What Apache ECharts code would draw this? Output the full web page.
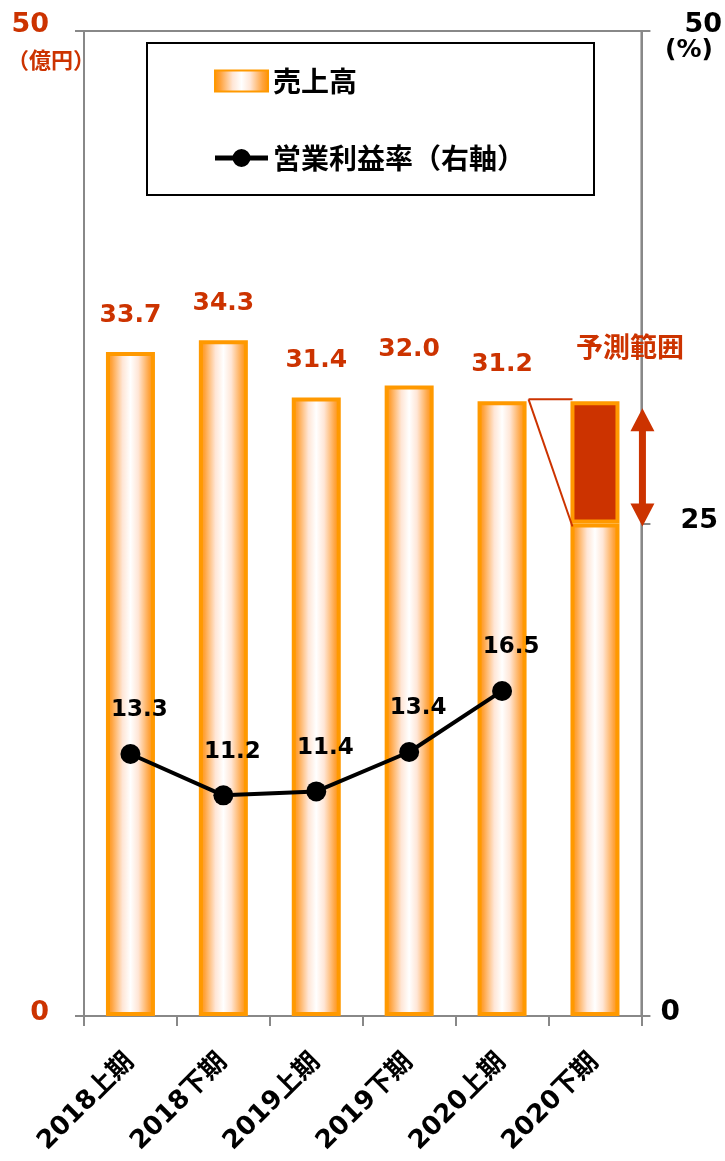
<!DOCTYPE html>
<html>
<head>
<meta charset="utf-8">
<script src="https://cdn.jsdelivr.net/npm/echarts@6/dist/echarts.min.js"></script>
<style>
  html, body { margin: 0; padding: 0; background: #fff; }
  #chart { width: 725px; height: 1161px; }
</style>
</head>
<body>
<div id="chart"></div>
<script>
// 半期ごとの売上高（億円）と営業利益率（%）
const categories = ['2018上期', '2018下期', '2019上期', '2019下期', '2020上期', '2020下期'];
const sales = [33.7, 34.3, 31.4, 32.0, 31.2];
const margin = [13.3, 11.2, 11.4, 13.4, 16.5];
// 2020下期の予測レンジ（億円）
const forecastRange = [25.0, 31.2];
const leftTicks = [0, 50];
const rightTicks = [0, 25, 50];

const RED = '#CC3300';
const ORANGE = '#FF9900';
const AXIS = '#888888';
const FONT = '"DejaVu Sans", "Noto Sans CJK JP", sans-serif';
const CJK = '"Noto Sans CJK JP", "DejaVu Sans", sans-serif';

const barGradient = new echarts.graphic.LinearGradient(0, 0, 1, 0, [
  { offset: 0, color: '#FF9000' },
  { offset: 0.12, color: '#FFA43F' },
  { offset: 0.34, color: '#FFE6D6' },
  { offset: 0.5, color: '#FFFFFF' },
  { offset: 0.66, color: '#FFE6D6' },
  { offset: 0.88, color: '#FFA43F' },
  { offset: 1, color: '#FF9000' }
]);

const salesBars = sales.concat([forecastRange[0]]);
const rangeBars = sales.map(() => '-').concat([+(forecastRange[1] - forecastRange[0]).toFixed(1)]);

// 凡例用：線の中央に丸印
const lineIcon = 'path://M0,8H18V13H0Z M35,8H53V13H35Z M17.5,10.5a9,9 0 1,1 18,0a9,9 0 1,1 -18,0Z';

const chart = echarts.init(document.getElementById('chart'), null, { renderer: 'canvas' });

chart.setOption({
  animation: false,
  backgroundColor: '#fff',
  textStyle: { fontFamily: FONT },
  grid: {
    left: 84, right: 82, top: 31, bottom: 145,
    show: true, borderColor: AXIS, borderWidth: 2
  },
  legend: {
    left: 147, top: 43,
    orient: 'vertical',
    padding: [24, 69, 23, 67],
    borderColor: '#000', borderWidth: 2,
    itemWidth: 53, itemHeight: 21, itemGap: 49,
    textStyle: { fontFamily: CJK, fontSize: 28, fontWeight: 'bold', color: '#000', lineHeight: 28 },
    data: [{ name: '売上高', icon: 'rect' }, { name: '営業利益率（右軸）', icon: lineIcon }]
  },
  xAxis: {
    type: 'category',
    data: categories,
    axisLine: { lineStyle: { color: AXIS, width: 2 } },
    axisTick: { show: true, length: 10, lineStyle: { color: AXIS, width: 2 } },
    axisLabel: {
      interval: 0, rotate: 45, margin: 42,
      fontFamily: FONT, fontSize: 26, fontWeight: 'bold', color: '#000'
    },
    splitLine: { show: false }
  },
  yAxis: [
    {
      type: 'value', position: 'left', min: leftTicks[0], max: leftTicks[1], interval: leftTicks[1] - leftTicks[0],
      axisLine: { show: true, lineStyle: { color: AXIS, width: 2 } },
      axisTick: { show: true, length: 9, lineStyle: { color: AXIS, width: 2 } },
      splitLine: { show: false },
      axisLabel: {
        margin: 35, color: RED, fontFamily: FONT, fontSize: 27, fontWeight: 'bold',
        formatter: v => v === leftTicks[1] ? '{top|' + v + '}' : '{base|' + v + '}',
        rich: {
          top: { fontFamily: FONT, fontSize: 27, fontWeight: 'bold', color: RED, padding: [0, 0, 12, 0] },
          base: { fontFamily: FONT, fontSize: 27, fontWeight: 'bold', color: RED, padding: [0, 0, 6, 0] }
        }
      }
    },
    {
      type: 'value', position: 'right', min: rightTicks[0], max: rightTicks[2], interval: rightTicks[1] - rightTicks[0],
      axisLine: { show: true, lineStyle: { color: AXIS, width: 2 } },
      axisTick: { show: true, length: 9, lineStyle: { color: AXIS, width: 2 } },
      splitLine: { show: false },
      axisLabel: {
        margin: 19, color: '#000', fontFamily: FONT, fontSize: 27, fontWeight: 'bold',
        formatter: v => v === rightTicks[2] ? '{t|' + v + '}' : (v === rightTicks[1] ? '{m|' + v + '}' : '{b|' + v + '}'),
        rich: {
          t: { fontFamily: FONT, fontSize: 27, fontWeight: 'bold', color: '#000', padding: [0, 0, 12, 24] },
          m: { fontFamily: FONT, fontSize: 27, fontWeight: 'bold', color: '#000', padding: [0, 0, 6, 20] },
          b: { fontFamily: FONT, fontSize: 28, fontWeight: 'bold', color: '#000', padding: [0, 0, 6, 0] }
        }
      }
    }
  ],
  graphic: [
    {
      type: 'text', left: 7, top: 49,
      style: { text: '（億円）', fill: RED, fontFamily: CJK, fontSize: 22, fontWeight: 'bold' }
    },
    {
      type: 'text', left: 665, top: 38,
      style: { text: '(%)', fill: '#000', fontFamily: FONT, fontSize: 25, fontWeight: 'bold' }
    }
  ],
  series: [
    {
      name: '売上高',
      type: 'bar',
      stack: 'sales',
      barWidth: 49,
      data: salesBars,
      itemStyle: { color: barGradient, borderColor: ORANGE, borderWidth: 4 },
      label: {
        show: true, position: 'top', distance: 24,
        color: RED, fontFamily: FONT, fontSize: 25, fontWeight: 'bold',
        formatter: p => p.dataIndex < sales.length ? p.value.toFixed(1) : ''
      },
      z: 2
    },
    {
      name: '予測範囲',
      type: 'bar',
      stack: 'sales',
      barWidth: 49,
      data: rangeBars,
      itemStyle: { color: RED, borderColor: ORANGE, borderWidth: 4 },
      z: 2
    },
    {
      name: '営業利益率（右軸）',
      type: 'line',
      yAxisIndex: 1,
      data: margin,
      symbol: 'circle',
      symbolSize: 20,
      lineStyle: { color: '#000', width: 4 },
      itemStyle: { color: '#000' },
      label: {
        show: true, position: 'top', distance: 22, offset: [9, 0],
        color: '#000', fontFamily: FONT, fontSize: 23, fontWeight: 'bold',
        formatter: p => p.value.toFixed(1)
      },
      z: 4
    },
    {
      // 予測範囲の補助線・両矢印・見出し
      name: 'forecastGuide',
      type: 'custom',
      silent: true,
      z: 3,
      data: [[categories.length - 1, forecastRange[1], forecastRange[0]]],
      renderItem: (params, api) => {
        const idx = api.value(0);
        const band = api.size([1, 0])[0];
        const prev = api.coord([idx - 1, api.value(1)]);
        const top = api.coord([idx, api.value(1)]);
        const low = api.coord([idx, api.value(2)]);
        const half = 26.5;
        const prevRight = prev[0] + half;
        const lastLeft = top[0] - half + 4;
        const ax = top[0] + band / 2 + 1;
        const yTop = top[1] - 2;
        const aTop = top[1] + 7;
        const aBot = low[1] + 3;
        const head = 23, hw = 12, sw = 3.5;
        return {
          type: 'group',
          children: [
            { type: 'line', shape: { x1: prevRight, y1: yTop, x2: lastLeft, y2: yTop }, style: { stroke: RED, lineWidth: 2 } },
            { type: 'line', shape: { x1: prevRight, y1: yTop, x2: lastLeft, y2: low[1] + 3 }, style: { stroke: RED, lineWidth: 2 } },
            {
              type: 'polygon',
              shape: { points: [
                [ax, aTop], [ax + hw, aTop + head], [ax + sw, aTop + head],
                [ax + sw, aBot - head], [ax + hw, aBot - head], [ax, aBot],
                [ax - hw, aBot - head], [ax - sw, aBot - head],
                [ax - sw, aTop + head], [ax - hw, aTop + head]
              ] },
              style: { fill: RED }
            },
            {
              type: 'text',
              x: top[0] + 35, y: top[1] - 55,
              style: { text: '予測範囲', fill: RED, align: 'center', verticalAlign: 'middle',
                       fontFamily: CJK, fontSize: 27, fontWeight: 'bold' }
            }
          ]
        };
      }
    }
  ]
});
</script>
</body>
</html>
